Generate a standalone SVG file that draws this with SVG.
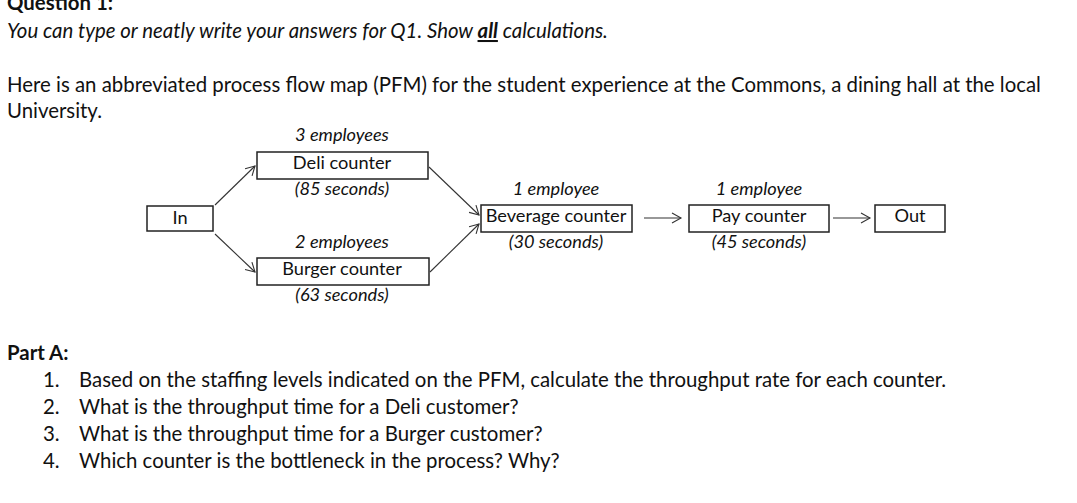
<svg xmlns="http://www.w3.org/2000/svg" width="1077" height="503" viewBox="0 0 1077 503">
<style>
text{font-family:Lato,"Open Sans",sans-serif;fill:#111}
.t{font-size:20.4px}
.d{font-size:18.2px}
.i{font-style:italic}
.b{fill:#fff;stroke:#222;stroke-width:1.5}
.c line{stroke:#333;stroke-width:1.1;marker-end:url(#a)}
</style>
<defs><marker id="a" markerWidth="12" markerHeight="12" refX="10" refY="6" orient="auto" markerUnits="userSpaceOnUse"><path d="M1,1 L10,6 L1,11" fill="none" stroke="#333" stroke-width="1.1"/></marker></defs>
<rect width="1077" height="503" fill="#fff"/>
<text class="t" x="7" y="10" font-weight="bold">Question 1:</text>
<text class="t i" x="7" y="38">You can type or neatly write your answers for Q1. Show <tspan font-weight="bold" text-decoration="underline">all</tspan> calculations.</text>
<text class="t" x="7" y="92">Here is an abbreviated process flow map (PFM) for the student experience at the Commons, a dining hall at the local</text>
<text class="t" x="7" y="118">University.</text>
<g id="in"><rect class="b" x="147" y="206" width="66" height="25"/><text class="d" x="180" y="224" text-anchor="middle">In</text></g>
<g id="deli"><text class="d i" x="342" y="141" text-anchor="middle">3 employees</text><rect class="b" x="257" y="152" width="171" height="27"/><text class="d" x="342" y="169" text-anchor="middle">Deli counter</text><text class="d i" x="342" y="195" text-anchor="middle">(85 seconds)</text></g>
<g id="burger"><text class="d i" x="342" y="248" text-anchor="middle">2 employees</text><rect class="b" x="257" y="258" width="172" height="27"/><text class="d" x="342" y="275" text-anchor="middle">Burger counter</text><text class="d i" x="342" y="301" text-anchor="middle">(63 seconds)</text></g>
<g id="bev"><text class="d i" x="556" y="195" text-anchor="middle">1 employee</text><rect class="b" x="481" y="205" width="151" height="27"/><text class="d" x="556" y="222" text-anchor="middle">Beverage counter</text><text class="d i" x="556" y="248" text-anchor="middle">(30 seconds)</text></g>
<g id="pay"><text class="d i" x="759" y="195" text-anchor="middle">1 employee</text><rect class="b" x="689" y="205" width="140" height="27"/><text class="d" x="759" y="222" text-anchor="middle">Pay counter</text><text class="d i" x="759" y="248" text-anchor="middle">(45 seconds)</text></g>
<g id="out"><rect class="b" x="875" y="205" width="70" height="27"/><text class="d" x="910" y="222" text-anchor="middle">Out</text></g>
<g class="c">
<line x1="215" y1="205" x2="255" y2="166"/>
<line x1="215" y1="234" x2="255" y2="272"/>
<line x1="429" y1="167" x2="479" y2="215"/>
<line x1="430" y1="272" x2="479" y2="224"/>
<line x1="644" y1="218" x2="681" y2="218"/>
<line x1="833" y1="218" x2="870" y2="218"/>
</g>
<text class="t" x="7" y="360" font-weight="bold">Part A:</text>
<g class="t">
<text class="t" x="43" y="387">1.</text><text class="t" x="79" y="387">Based on the staffing levels indicated on the PFM, calculate the throughput rate for each counter.</text>
<text class="t" x="43" y="414">2.</text><text class="t" x="79" y="414">What is the throughput time for a Deli customer?</text>
<text class="t" x="43" y="441">3.</text><text class="t" x="79" y="441">What is the throughput time for a Burger customer?</text>
<text class="t" x="43" y="468">4.</text><text class="t" x="79" y="468">Which counter is the bottleneck in the process? Why?</text>
</g>
</svg>
